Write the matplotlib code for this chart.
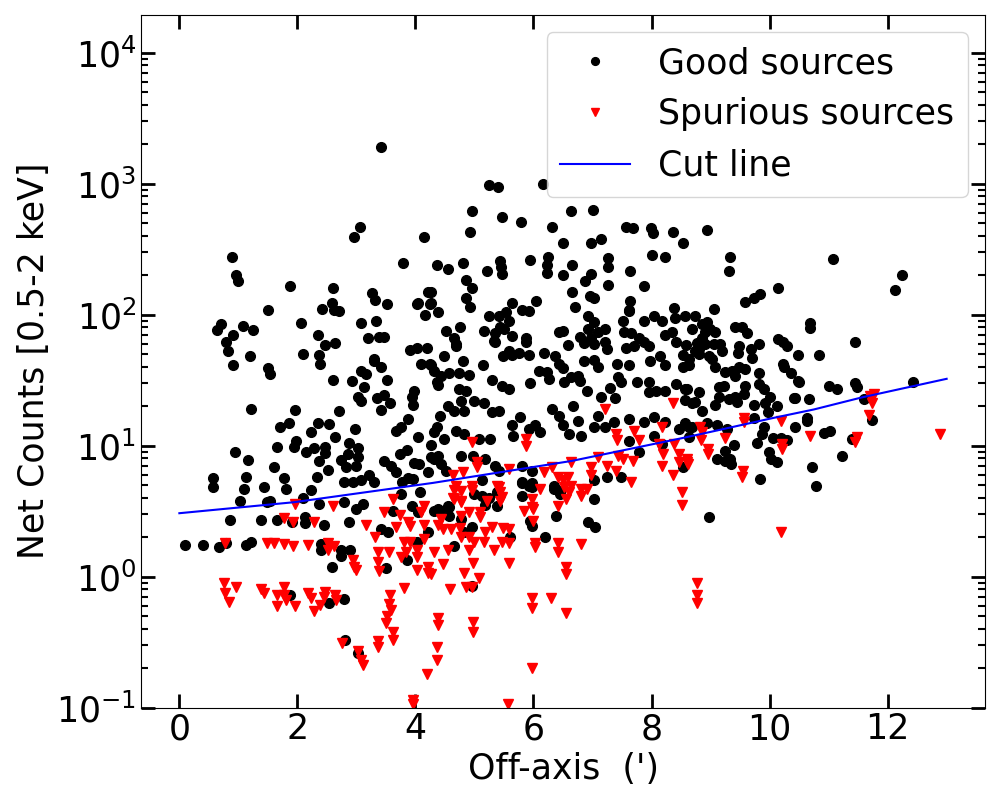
import matplotlib
matplotlib.use("Agg")
import matplotlib.pyplot as plt

# good sources (off-axis arcmin, net counts)
good = [
    (3.42, 1900),
    (5.24, 980), (5.40, 940), (6.16, 1000),
    (4.95, 620), (4.93, 430), (5.47, 560), (5.78, 510), (6.31, 470), (6.64, 620), (7.00, 630),
    (6.50, 350), (6.98, 350), (7.15, 380), (7.57, 470), (7.68, 460), (7.99, 460), (8.02, 420),
    (8.36, 430), (8.54, 350), (8.94, 440),
    (4.36, 240), (4.55, 225), (4.81, 250), (4.85, 185), (4.95, 160), (4.86, 133), (4.93, 115),
    (5.21, 215), (5.43, 255), (5.45, 230), (5.47, 205), (5.94, 260), (6.24, 275), (6.23, 240),
    (6.23, 210), (6.66, 240), (6.50, 200), (6.88, 180), (6.98, 205), (7.26, 270), (7.26, 230),
    (7.26, 168), (6.66, 150), (6.71, 115), (6.96, 140), (7.02, 135), (7.63, 215), (7.87, 165),
    (8.01, 285), (8.23, 275), (7.63, 128), (7.61, 108), (5.63, 123), (6.04, 128), (5.80, 108),
    (5.92, 107), (4.39, 104),
    (9.33, 275), (9.32, 215), (11.07, 265), (12.25, 200), (12.13, 155), (10.15, 160), (9.84, 145),
    (9.73, 135), (9.58, 125), (9.06, 110), (10.68, 87), (10.68, 79), (11.44, 62), (10.15, 65),
    (10.22, 62), (10.29, 58), (10.48, 49), (10.83, 49), (10.22, 42), (10.24, 40), (10.36, 36),
    (10.48, 31), (11.00, 28.5), (11.15, 27), (11.44, 30), (11.48, 28), (12.43, 30.5), (11.60, 22.7),
    (10.67, 22.7), (10.41, 23),
    (3.06, 465), (2.96, 390), (4.15, 390), (3.79, 250), (0.89, 275), (0.96, 200), (1.00, 180),
    (1.87, 167), (2.60, 160), (3.27, 147), (3.32, 130), (3.52, 120), (2.58, 122), (2.42, 110),
    (2.62, 108), (2.70, 107), (4.22, 148), (4.02, 120), (4.05, 122), (4.24, 120), (4.17, 100),
    (1.51, 108), (2.06, 87), (3.08, 87), (3.34, 90), (0.70, 85), (0.64, 77), (0.91, 70),
    (1.08, 82), (1.25, 77), (0.79, 62), (0.82, 53), (1.19, 48), (2.35, 70), (2.47, 59),
    (2.63, 61), (2.09, 50), (2.37, 49), (3.20, 66), (3.39, 68), (3.47, 68), (3.90, 54),
    (4.03, 56), (4.20, 56), (3.29, 46),
    (0.91, 41), (1.51, 39), (1.54, 35.5), (2.38, 42), (2.60, 32), (2.93, 31), (3.08, 37),
    (3.17, 35.5), (3.29, 44), (3.41, 40), (3.52, 32), (3.13, 28), (3.03, 23.6), (3.08, 22),
    (3.35, 23), (3.47, 24.5), (3.57, 21), (3.41, 18.8), (4.10, 42), (4.24, 42), (4.32, 37),
    (4.38, 29), (3.98, 26), (3.95, 23.6), (3.96, 20.5), (1.22, 19), (1.96, 18.8), (2.70, 18.5),
    (1.70, 14), (1.85, 15), (2.35, 15), (2.53, 14.7), (2.23, 12.7), (2.63, 11.7), (2.97, 13.4),
    (1.66, 9.7), (1.94, 9.7), (1.98, 10.8), (2.15, 8.9), (2.28, 9.6), (2.47, 9.8), (2.47, 8.8),
    (2.87, 10.5), (3.03, 9.6), (2.86, 8.6), (2.74, 7.8), (3.03, 8.2), (2.37, 7.6), (0.95, 8.9),
    (1.17, 7.8), (1.60, 6.9), (0.57, 5.7), (0.57, 4.8), (1.13, 5.8), (1.10, 4.7), (1.43, 4.8),
    (1.77, 5.7), (1.80, 4.7), (1.03, 3.8), (2.33, 5.8), (2.51, 6.5), (2.23, 4.6), (2.79, 5.3),
    (2.94, 5.3), (3.08, 5.5), (2.82, 6.9), (2.99, 7.0), (3.22, 6.0), (3.29, 5.3), (3.46, 7.6),
    (3.59, 7.0), (3.67, 6.3), (3.76, 14), (3.67, 13), (3.88, 16), (4.05, 11.6), (3.74, 8.6),
    (3.86, 9.2), (4.26, 10.2), (4.31, 12.7), (4.27, 8.2), (4.39, 8.3), (3.98, 7.4), (4.06, 7.2),
    (3.77, 5.3), (3.88, 5.7), (3.96, 5.6), (4.22, 6.3), (4.07, 4.4), (3.76, 4.25), (1.48, 3.7),
    (1.54, 3.8), (2.09, 3.96), (2.37, 3.6), (2.79, 3.7), (2.99, 3.3), (3.11, 3.6), (0.86, 2.7),
    (1.39, 2.7), (1.65, 2.7), (1.90, 2.6), (2.13, 2.85), (2.13, 2.55), (2.45, 2.5), (2.87, 2.6),
    (3.42, 2.3), (3.53, 2.2), (3.62, 3.15), (3.95, 3.45), (4.05, 3.1), (4.22, 2.2), (4.31, 3.15),
    (0.09, 1.73), (0.40, 1.73), (0.67, 1.67), (0.79, 1.82), (1.13, 1.73), (1.22, 1.85),
    (2.40, 1.76), (2.40, 1.6), (2.74, 1.6), (2.74, 1.45), (2.89, 1.6), (2.58, 1.19), (1.88, 0.72),
    (2.53, 0.63), (2.79, 0.68), (2.81, 0.33), (3.03, 0.26), (3.50, 1.17), (3.86, 1.35), (4.02, 1.85),
    (4.68, 60), (5.35, 62), (5.87, 62), (6.59, 59), (6.86, 61), (7.02, 60), (7.21, 62), (7.56, 56),
    (7.71, 58), (7.95, 58), (8.42, 62), (8.58, 59), (8.77, 61), (8.90, 60), (4.49, 48), (4.27, 41),
    (4.81, 44), (5.14, 41), (5.49, 48.5), (5.63, 49.5), (5.75, 51), (5.92, 49.5), (6.18, 51),
    (6.37, 48.5), (6.44, 42), (6.50, 39), (6.86, 44), (7.02, 45), (7.10, 40), (7.41, 42),
    (7.61, 41), (7.97, 44), (8.14, 48.5), (8.23, 41), (8.53, 49.5), (8.63, 41.5), (8.80, 50),
    (8.97, 48), (4.36, 30.5), (4.44, 34), (4.57, 36), (4.73, 36), (4.90, 34.5), (4.73, 27),
    (4.86, 26), (5.29, 32), (5.46, 28.5), (5.58, 27), (5.94, 30), (6.09, 37), (6.23, 36.5),
    (6.26, 32.5), (6.52, 30.5), (6.64, 33.5), (6.76, 34), (6.78, 31), (6.90, 26), (7.15, 23.5),
    (7.29, 27.5), (7.38, 23), (7.44, 33.5), (7.49, 30.5), (7.75, 30.5), (7.95, 30.5), (7.95, 25.5),
    (8.07, 26), (8.23, 26), (8.42, 29.5), (8.60, 27), (8.56, 22.5), (8.73, 21.5), (8.80, 25.5),
    (4.55, 20), (4.66, 18.5), (4.83, 18.5), (4.78, 22), (5.00, 22), (5.16, 21), (5.29, 18),
    (5.41, 18.5), (4.41, 16.8), (4.36, 14), (4.69, 13), (4.49, 11.2), (4.83, 12.3), (5.07, 11.2),
    (5.26, 11.2), (5.63, 14.5), (5.77, 16.5), (5.66, 11.8), (5.92, 13.4), (6.02, 14.5), (6.11, 12.7),
    (6.31, 19), (6.43, 16.8), (6.50, 14.5), (6.67, 20), (6.76, 15.4), (6.61, 12.3), (6.81, 11.8),
    (7.10, 16.8), (7.02, 14), (7.21, 14), (7.37, 15.2), (7.61, 16), (7.88, 15.2), (8.05, 16.5),
    (7.61, 10.8), (7.78, 9.0), (8.04, 11.8), (8.23, 15.2), (8.46, 13.4), (8.63, 14), (8.54, 6.9),
    (8.18, 10.3), (7.49, 5.75), (7.24, 5.8), (4.31, 7.9), (4.44, 7.2), (4.52, 6.4), (4.78, 8.3),
    (4.98, 8.3), (5.17, 7.9), (5.12, 5.5), (5.35, 7.0), (5.41, 6.4), (5.80, 7.0), (5.97, 6.4),
    (5.80, 5.25), (5.92, 4.9), (6.35, 4.9), (6.45, 4.5), (7.03, 3.9), (6.93, 2.6), (6.38, 2.9),
    (5.94, 2.65), (5.38, 3.45), (4.83, 2.2), (4.95, 2.4), (4.55, 3.45), (4.39, 3.3), (5.60, 2.0),
    (6.20, 2.0), (8.97, 2.85), (5.38, 4.4), (5.12, 4.1),
    (8.56, 97), (8.73, 97), (8.68, 78), (8.85, 85), (8.94, 88), (8.90, 74), (9.08, 74), (9.41, 80),
    (9.53, 80), (9.62, 72), (8.73, 53), (9.06, 60), (9.16, 60), (9.20, 53), (9.49, 58), (9.46, 51),
    (9.68, 55), (9.82, 60), (9.70, 47), (8.63, 46), (8.54, 40), (9.02, 46), (9.08, 40), (9.25, 36.5),
    (9.37, 37), (9.48, 40), (9.58, 38.5), (9.41, 34), (9.82, 36), (8.56, 27), (9.15, 28),
    (9.23, 28.5), (9.58, 28.5), (9.56, 25), (9.82, 29.5), (9.91, 27), (10.01, 23.5), (9.15, 23.5),
    (9.32, 22.7), (9.41, 23.5), (9.44, 21.5), (9.08, 20.5), (9.73, 20.5), (9.92, 21), (10.13, 20),
    (10.43, 23), (8.68, 21), (8.85, 18.5), (10.64, 16.3),
    (10.50, 30.5), (9.98, 18), (8.56, 15), (8.68, 14), (8.94, 15), (9.11, 14.5), (9.28, 13.4),
    (9.73, 16.3), (9.91, 14), (10.43, 14), (10.64, 15.3), (11.73, 15.8), (10.93, 12.5),
    (11.03, 12.9), (11.39, 11.2), (11.22, 8.4), (8.63, 11.6), (9.25, 9.1), (9.39, 10.1),
    (9.79, 10.5), (9.87, 12.2), (10.05, 11.4), (10.19, 11.4), (10.30, 11), (9.11, 7.9),
    (9.25, 7.6), (9.33, 7.9), (9.35, 7.2), (9.99, 8.9), (10.03, 7.9), (10.13, 7.5), (9.84, 5.6),
    (10.72, 6.9), (10.78, 4.9),
    (4.52, 75), (4.66, 66), (4.69, 58), (4.76, 80), (4.27, 150), (4.27, 122), (5.24, 97),
    (5.41, 98), (5.54, 105), (5.58, 90), (5.43, 81), (5.50, 78), (5.63, 69), (5.16, 75),
    (5.33, 63), (5.35, 72), (5.87, 66), (5.58, 53), (6.43, 74), (6.50, 75), (6.78, 68),
    (6.93, 78), (7.03, 88), (7.10, 74), (7.21, 78), (6.98, 66), (7.24, 55), (6.93, 98),
    (7.54, 74), (7.66, 72), (7.78, 66), (7.88, 62), (7.52, 90), (7.61, 106), (7.88, 90),
    (8.04, 98), (8.18, 89), (8.23, 70), (8.35, 74), (8.80, 55), (8.85, 66), (8.38, 112),
    (8.40, 94), (8.99, 78),
    (5.80, 5.2), (5.97, 5.2), (5.80, 4.1), (5.97, 4.8), (6.35, 4.7), (6.45, 4.25), (7.02, 5.5),
    (7.05, 2.4), (5.97, 2.45), (4.41, 3.15), (4.57, 3.4), (4.57, 2.9), (4.78, 2.75), (4.66, 1.7),
    (4.95, 0.85), (5.00, 4.25), (5.24, 4.0), (5.17, 3.55),
]

# spurious sources
spurious = [
    (1.96, 3.6), (2.60, 3.45), (1.77, 2.78), (1.92, 2.6), (2.28, 2.6), (3.17, 2.5), (3.46, 3.1),
    (3.62, 3.9), (3.74, 2.95), (3.67, 2.4), (3.88, 2.6), (3.90, 2.45), (4.15, 3.45), (4.10, 3.1),
    (4.15, 2.5), (3.32, 2.0), (3.81, 1.85), (3.90, 1.85), (4.15, 1.95), (0.77, 1.82), (1.48, 1.8),
    (1.60, 1.82), (1.77, 1.76), (1.92, 1.7), (2.18, 1.73), (2.51, 1.82), (2.51, 1.6), (2.62, 1.7),
    (2.94, 1.33), (2.96, 1.19), (2.99, 1.13), (3.37, 1.55), (3.55, 1.55), (3.37, 1.3), (3.39, 1.1),
    (3.76, 1.4), (3.84, 1.55), (4.02, 1.6), (4.02, 1.4), (4.03, 1.13), (4.22, 1.07), (4.31, 1.53),
    (4.27, 1.04), (0.76, 0.9), (0.77, 0.75), (0.84, 0.64), (0.96, 0.84), (1.39, 0.8), (1.43, 0.75),
    (1.66, 0.73), (1.77, 0.84), (1.77, 0.73), (1.66, 0.6), (1.80, 0.66), (1.96, 0.6), (2.18, 0.75),
    (2.23, 0.69), (2.47, 0.77), (2.45, 0.7), (2.38, 0.61), (2.28, 0.55), (2.63, 0.73), (2.65, 0.66),
    (3.57, 0.73), (3.55, 0.62), (3.59, 0.56), (3.52, 0.5), (3.50, 0.44), (3.62, 0.38), (3.62, 0.33),
    (3.81, 0.82), (3.37, 0.32), (3.37, 0.29), (2.75, 0.31), (3.03, 0.27), (3.08, 0.23), (3.11, 0.21),
    (4.20, 0.18), (3.96, 0.114), (3.96, 0.107), (4.36, 0.29), (4.36, 0.23), (4.39, 0.48), (4.39, 0.43),
    (4.22, 1.19), (4.39, 2.5),
    (4.44, 2.75), (4.47, 2.3), (4.61, 2.3), (4.75, 2.37), (4.55, 1.6), (4.47, 1.24), (4.59, 0.8),
    (4.66, 3.9), (4.78, 3.75), (4.95, 4.6), (4.66, 4.6), (4.78, 2.9), (4.90, 3.1), (5.09, 3.1),
    (5.09, 2.85), (4.78, 2.0), (4.90, 2.0), (5.00, 1.85), (5.16, 1.85), (5.17, 2.2), (5.29, 2.4),
    (5.33, 1.6), (5.49, 2.37), (5.46, 1.85), (5.59, 2.3), (5.59, 1.82), (5.59, 1.28), (4.90, 1.6),
    (4.98, 1.28), (4.83, 1.07), (4.86, 0.84), (4.95, 0.84), (5.07, 0.98), (4.97, 0.45), (4.97, 0.38),
    (5.56, 0.106), (5.97, 0.2), (5.97, 0.69), (5.97, 0.58), (6.30, 0.69), (6.55, 0.53), (6.55, 1.19),
    (6.55, 1.04), (6.02, 1.82), (6.02, 1.67), (6.42, 1.82), (6.42, 1.55), (6.81, 1.76), (5.84, 3.15),
    (6.00, 3.27), (6.00, 2.65), (6.11, 4.65), (6.42, 3.45), (6.52, 4.8), (6.55, 3.9), (6.61, 4.4),
    (6.81, 4.65), (6.81, 4.1), (6.90, 4.65), (7.66, 5.25), (8.51, 4.4), (8.51, 3.55), (8.77, 0.9),
    (8.77, 0.73), (8.77, 0.63), (5.41, 4.8), (5.46, 4.05),
    (7.21, 19), (8.36, 21), (4.95, 10.6), (5.87, 11.2), (5.87, 9.9), (7.40, 12.3), (7.42, 11),
    (7.71, 13), (7.78, 11), (8.18, 14), (8.82, 14), (8.83, 11), (8.95, 9.4), (8.12, 10.3),
    (8.38, 10.3), (8.19, 8.6), (8.46, 8.6), (8.60, 7.5), (8.46, 7.5), (8.18, 7.0), (8.36, 6.0),
    (5.04, 7.5), (5.04, 6.9), (4.64, 6.0), (4.81, 6.3), (4.95, 4.9), (4.69, 4.9), (4.78, 4.5),
    (4.64, 4.0), (4.78, 3.7), (5.21, 3.75), (5.38, 4.9), (5.43, 4.4), (5.43, 3.75), (5.59, 6.6),
    (6.18, 6.3), (6.31, 6.9), (6.42, 5.8), (6.50, 5.5), (6.59, 5.8), (6.64, 4.9), (5.97, 3.9),
    (5.97, 3.4), (6.64, 7.5), (6.98, 6.9), (6.98, 6.0), (7.10, 8.2), (7.24, 7.0), (7.40, 6.4),
    (7.44, 8.3), (7.52, 7.9), (7.69, 7.6),
    (9.56, 16.3), (9.56, 15.2), (10.19, 15.3), (8.85, 12.7), (9.25, 11.4), (8.95, 8.6), (8.60, 7.9),
    (8.61, 7.2), (10.21, 10.3), (10.21, 9.4), (10.69, 11.8), (11.48, 11.6), (11.44, 10.6),
    (9.55, 6.4), (9.53, 5.8), (10.19, 2.2), (11.70, 24), (11.73, 21), (11.68, 17), (11.77, 25),
    (12.88, 12.2),
]

# cut line
cut_x = [0.0, 1.94, 4.3, 6.65, 8.51, 9.02, 10.04, 10.75, 11.57, 13.0]
cut_y = [3.05, 3.7, 5.2, 7.65, 11.4, 12.8, 16.2, 18.9, 23.4, 32.4]

good_x, good_y = zip(*good)
spur_x, spur_y = zip(*spurious)

fig = plt.figure(figsize=(10, 8), dpi=100)
ax = fig.add_axes([0.141, 0.1155, 0.844, 0.866])

ax.plot(good_x, good_y, 'o', color='black', ms=7, ls='none', label='Good sources')
ax.plot(spur_x, spur_y, 'v', color='red', ms=7, ls='none', label='Spurious sources')
ax.plot(cut_x, cut_y, '-', color='blue', lw=1.5, label='Cut line')

ax.set_yscale('log')
ax.set_xlim(-0.65, 13.65)
ax.set_ylim(0.1, 1.95e4)

ax.set_xlabel("Off-axis  (')", fontsize=25)
ax.set_ylabel('Net Counts [0.5-2 keV]', fontsize=25)

ax.tick_params(which='both', direction='in', top=True, right=True, labelsize=25)
ax.tick_params(which='major', length=10, width=2)
ax.tick_params(which='minor', length=5, width=1.5)

ax.legend(loc='upper right', fontsize=25, numpoints=1, markerscale=0.8)

fig.savefig('out.png', dpi=100)
